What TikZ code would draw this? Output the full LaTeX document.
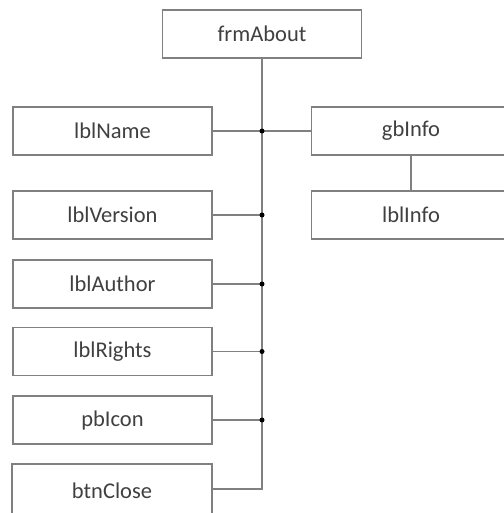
\documentclass[tikz,border=0pt]{standalone}
\usepackage{fontspec}
\setmainfont{Carlito}
\begin{document}
\begin{tikzpicture}[x=1pt,y=-1pt,
  box/.style={draw=black!50,line width=1.3pt,fill=white,minimum width=199pt,minimum height=48pt,inner sep=0pt,text=black!75,font=\fontsize{22.5}{26}\selectfont},
  conn/.style={draw=black!50,line width=1.2pt},
  junc/.style={circle,fill=black,inner sep=0pt,minimum size=5pt}]
\useasboundingbox (0,0) rectangle (503,513);
\node[box] (frm) at (262,34) {frmAbout};
\node[box] (name) at (112.5,131) {lblName};
\node[box] (gb) at (411,131) {gbInfo};
\node[box] (info) at (411,215) {lblInfo};
\node[box] (ver) at (112.5,215) {lblVersion};
\node[box] (auth) at (112.5,284) {lblAuthor};
\node[box] (rights) at (112.5,351.5) {lblRights};
\node[box] (icon) at (112.5,420) {pbIcon};
\node[box,minimum width=200pt,minimum height=54pt] (close) at (112,491) {btnClose};
\coordinate (j1) at (262,131);
\coordinate (j2) at (262,215);
\coordinate (j3) at (262,284);
\coordinate (j4) at (262,351.5);
\coordinate (j5) at (262,420);
\coordinate (j6) at (262,489);
\draw[conn] (frm.south) -- (j6) -- (close.east |- j6);
\draw[conn] (name.east) -- (j1) -- (gb.west);
\draw[conn] (ver.east) -- (j2);
\draw[conn] (auth.east) -- (j3);
\draw[conn] (rights.east) -- (j4);
\draw[conn] (icon.east) -- (j5);
\draw[conn] (gb.south) -- (info.north);
\foreach \j in {j1,j2,j3,j4,j5} \node[junc] at (\j) {};
\end{tikzpicture}
\end{document}
